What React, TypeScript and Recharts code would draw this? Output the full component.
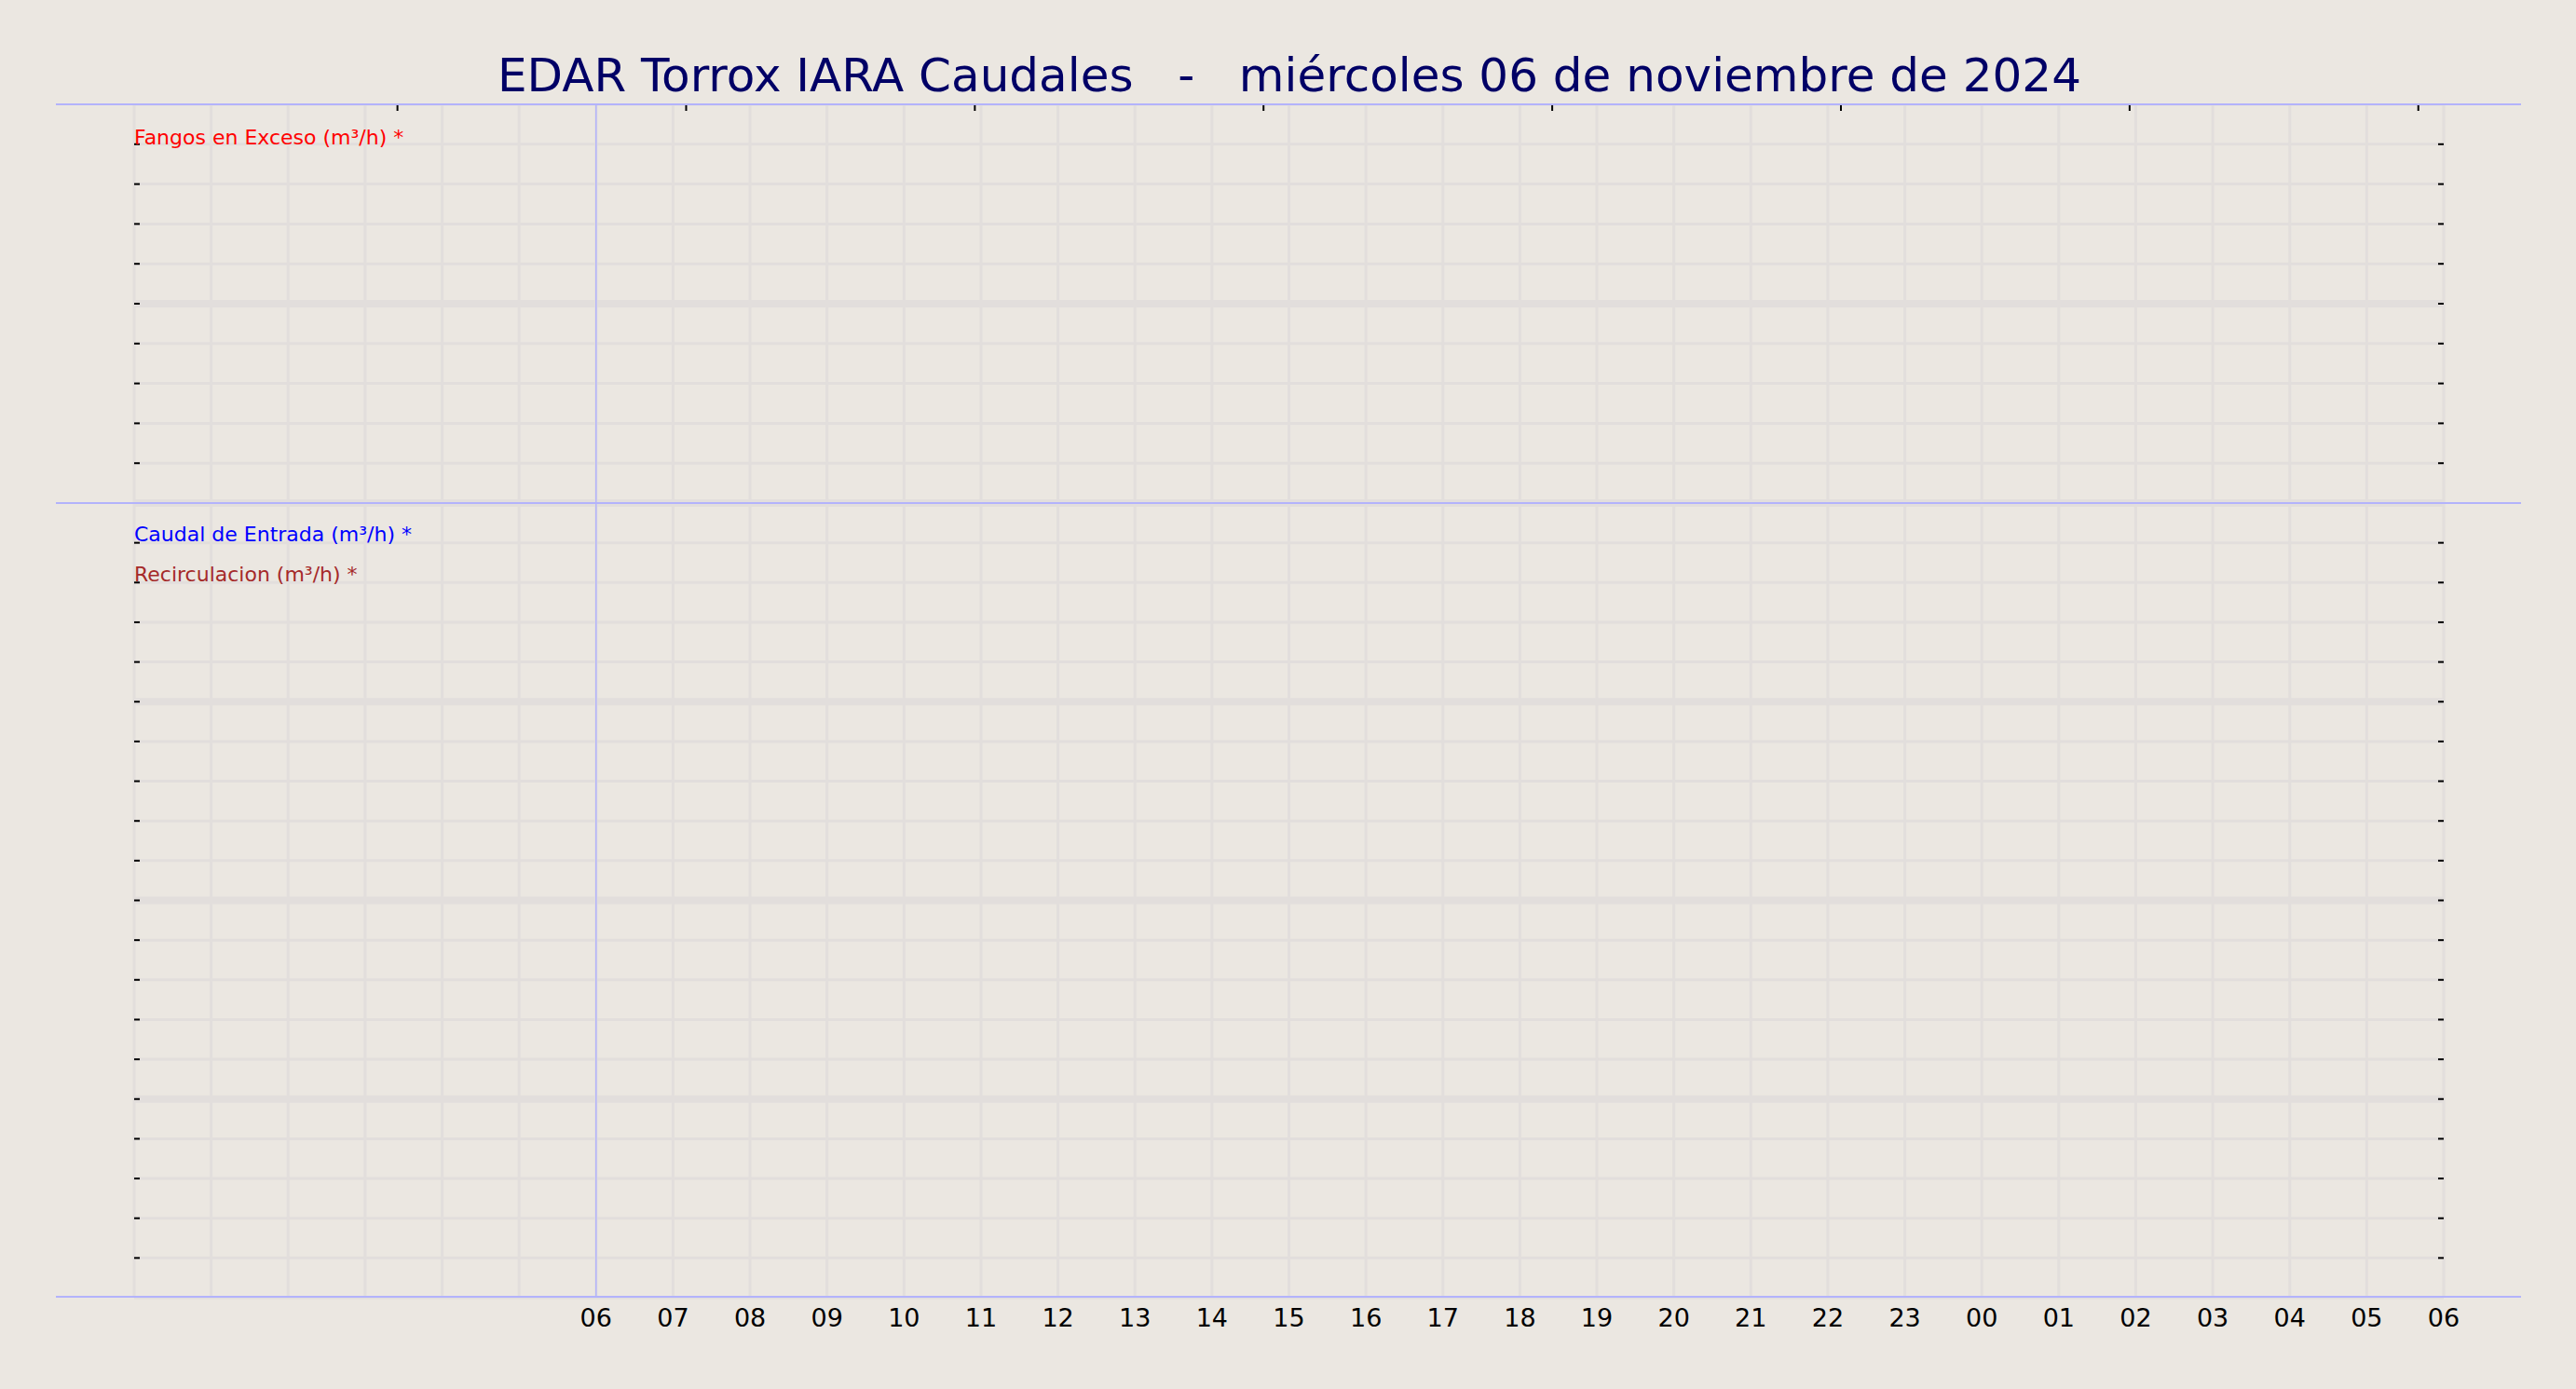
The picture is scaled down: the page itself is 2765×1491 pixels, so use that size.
import React from 'react';
import { LineChart, Line, XAxis, YAxis, CartesianGrid, ReferenceLine } from 'recharts';

// hours since 00:00 of the day before the report window (06 -> 06 next day is labelled)
const hours = [0, 1, 2, 3, 4, 5, 6, 7, 8, 9, 10, 11, 12, 13, 14, 15, 16, 17, 18, 19, 20, 21, 22, 23, 24, 25, 26, 27, 28, 29, 30];
const hourLabels = ['', '', '', '', '', '', '06', '07', '08', '09', '10', '11', '12', '13', '14', '15', '16', '17', '18', '19', '20', '21', '22', '23', '00', '01', '02', '03', '04', '05', '06'];
const topAxisTicks = [3.42, 7.17, 10.92, 14.67, 18.42, 22.17, 25.92, 29.67];
const upperTicks = [0, 1, 2, 3, 4, 5, 6, 7, 8, 9, 10];
const upperMajor = [0, 5];
const lowerTicks = [0, 1, 2, 3, 4, 5, 6, 7, 8, 9, 10, 11, 12, 13, 14, 15, 16, 17, 18, 19, 20];
const lowerMajor = [5, 10, 15, 20];

// no readings were recorded for the day
const fangosExceso: (number | null)[] = [];
const caudalEntrada: (number | null)[] = [];
const recirculacion: (number | null)[] = [];

const rows = hours.map((h, i) => ({
    h,
    fangos: fangosExceso[i] ?? null,
    caudal: caudalEntrada[i] ?? null,
    recirc: recirculacion[i] ?? null,
}));

const BG = '#ebe7e1';
const GRID = '#e2dedc';
const SEP = '#b3b3fb';
const FONT = 'DejaVu Sans';

const PLOT_LEFT = 144;
const PLOT_W = 2479;
const PAD = 60;

const grids = (yTicks: number[], major: number[]) => [
    <CartesianGrid key="g" yAxisId="l" stroke={GRID} strokeWidth={3} strokeDasharray="" verticalValues={hours} horizontalValues={yTicks} />,
    <CartesianGrid key="gm" yAxisId="l" stroke={GRID} strokeWidth={8} strokeDasharray="" vertical={false} horizontalValues={major} />,
];

const yAxes = (yTicks: number[]) => {
    const inner = yTicks.slice(1, -1);
    const dom = [yTicks[0], yTicks[yTicks.length - 1]];
    return [
        <YAxis key="l" yAxisId="l" orientation="left" mirror width={1} type="number" domain={dom} allowDataOverflow ticks={inner} interval={0}
            axisLine={false} tickSize={6} tickLine={{ stroke: '#000', strokeWidth: 2 }} tickFormatter={() => ''} />,
        <YAxis key="r" yAxisId="r" orientation="right" mirror width={1} type="number" domain={dom} allowDataOverflow ticks={inner} interval={0}
            axisLine={false} tickSize={6} tickLine={{ stroke: '#000', strokeWidth: 2 }} tickFormatter={() => ''} />,
    ];
};

export default function App() {
    return (
        <div style={{ position: 'absolute', left: 0, top: 0, width: 2765, height: 1491, background: BG, fontFamily: FONT }}>
            <svg width={2765} height={1491} style={{ position: 'absolute', left: 0, top: 0 }}>
                <text x={1384} y={98} textAnchor="middle" fontSize={50} fill="#000066" fontFamily={FONT} xmlSpace="preserve" style={{ whiteSpace: 'pre' }}>
                    {'EDAR Torrox IARA Caudales   -   miércoles 06 de noviembre de 2024'}
                </text>
            </svg>

            <div style={{ position: 'absolute', left: PLOT_LEFT - PAD, top: 112 }}>
                <LineChart width={PLOT_W + 2 * PAD} height={428} data={rows} margin={{ top: 0, right: PAD, bottom: 0, left: PAD }}>
                    {grids(upperTicks, upperMajor)}
                    <XAxis dataKey="h" type="number" domain={[0, 30]} allowDataOverflow ticks={hours} hide />
                    <XAxis xAxisId="top" orientation="top" type="number" domain={[0, 30]} allowDataOverflow ticks={topAxisTicks} interval={0}
                        mirror height={1} axisLine={false} tickSize={7} tickLine={{ stroke: '#000', strokeWidth: 2 }} tickFormatter={() => ''} />
                    {yAxes(upperTicks)}
                    <ReferenceLine x={6} yAxisId="l" stroke={SEP} strokeWidth={1.5} ifOverflow="visible" />
                    <Line yAxisId="l" dataKey="fangos" stroke="#ff0000" strokeWidth={2} dot={false} isAnimationActive={false} />
                </LineChart>
            </div>

            <div style={{ position: 'absolute', left: PLOT_LEFT - PAD, top: 540 }}>
                <LineChart width={PLOT_W + 2 * PAD} height={903} data={rows} margin={{ top: 0, right: PAD, bottom: 0, left: PAD }}>
                    {grids(lowerTicks, lowerMajor)}
                    <XAxis dataKey="h" type="number" domain={[0, 30]} allowDataOverflow ticks={hours} interval={0} height={50}
                        axisLine={false} tickLine={false} tickSize={0} tickMargin={12}
                        tick={{ fontSize: 27, fill: '#000', fontFamily: FONT }}
                        tickFormatter={(v: number) => hourLabels[hours.indexOf(v)] ?? ''} />
                    {yAxes(lowerTicks)}
                    <ReferenceLine x={6} yAxisId="l" stroke={SEP} strokeWidth={1.5} ifOverflow="visible" />
                    <Line yAxisId="l" dataKey="caudal" stroke="#0000ff" strokeWidth={2} dot={false} isAnimationActive={false} />
                    <Line yAxisId="l" dataKey="recirc" stroke="#a52a2a" strokeWidth={2} dot={false} isAnimationActive={false} />
                </LineChart>
            </div>

            <svg width={2765} height={1491} style={{ position: 'absolute', left: 0, top: 0, pointerEvents: 'none' }}>
                <line x1={60} x2={2706} y1={112} y2={112} stroke={SEP} strokeWidth={2} />
                <line x1={60} x2={2706} y1={540} y2={540} stroke={SEP} strokeWidth={2} />
                <line x1={60} x2={2706} y1={1392} y2={1392} stroke={SEP} strokeWidth={2} />
                <text x={PLOT_LEFT} y={155} fontSize={22} fill="#ff0000" fontFamily={FONT}>Fangos en Exceso (m³/h) *</text>
                <text x={PLOT_LEFT} y={581} fontSize={22} fill="#0000ff" fontFamily={FONT}>Caudal de Entrada (m³/h) *</text>
                <text x={PLOT_LEFT} y={624} fontSize={22} fill="#a52a2a" fontFamily={FONT}>Recirculacion (m³/h) *</text>
            </svg>
        </div>
    );
}
